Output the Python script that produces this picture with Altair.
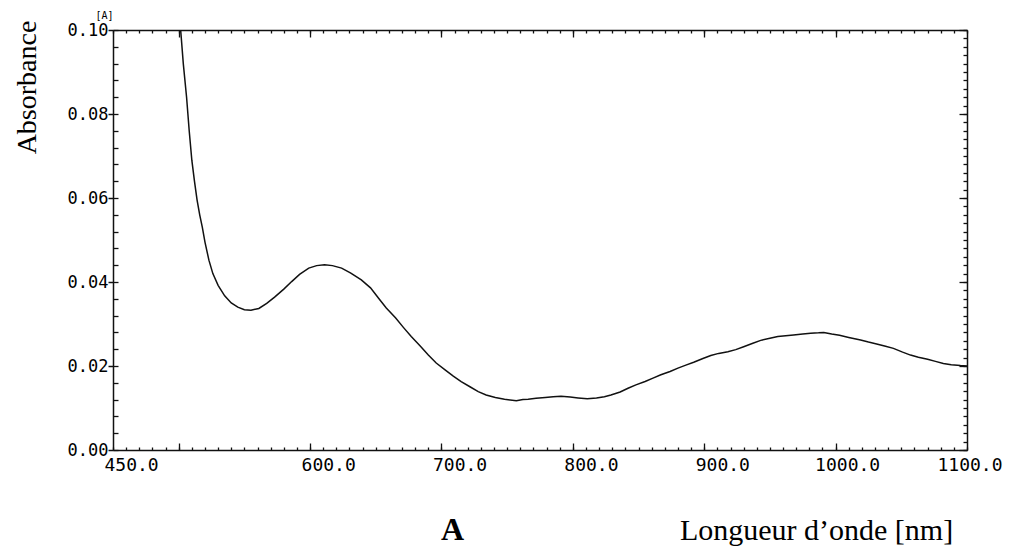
import altair as alt
import pandas as pd

# Spectrum
wavelength_nm = [501.5, 503.5, 506, 508, 510, 512, 514, 516, 518, 520, 523, 526, 530, 535, 540,
                 545, 550, 555, 561, 567, 573, 580, 586, 592, 599, 605, 611, 617, 624, 631,
                 639, 646, 652, 658, 665, 671, 677, 684, 690, 696, 703, 709, 715, 722, 728,
                 734, 741, 748, 757, 762, 766, 772, 779, 785, 791, 798, 804, 811, 818, 824,
                 829, 836, 842, 848, 855, 861, 867, 874, 880, 886, 892, 899, 905, 911, 918,
                 924, 930, 937, 943, 950, 956, 962, 968, 975, 981, 987, 991, 997, 1003, 1010,
                 1019, 1025, 1032, 1038, 1044, 1051, 1057, 1063, 1070, 1076, 1082, 1088, 1095, 1100]
absorbance = [0.100, 0.092, 0.084, 0.076, 0.069, 0.064, 0.0595, 0.056, 0.053, 0.0495, 0.0452, 0.0420, 0.0392, 0.0367, 0.0350,
              0.0340, 0.0334, 0.0333, 0.0337, 0.0349, 0.0364, 0.0383, 0.0401, 0.0418, 0.0433, 0.0439, 0.0441, 0.0439, 0.0433, 0.0421,
              0.0405, 0.0386, 0.0362, 0.0338, 0.0315, 0.0292, 0.0270, 0.0247, 0.0226, 0.0207, 0.0190, 0.0176, 0.0163, 0.0150, 0.0139,
              0.0131, 0.0125, 0.0121, 0.0117, 0.0120, 0.0121, 0.0123, 0.0125, 0.0127, 0.0128, 0.0126, 0.0124, 0.0122, 0.0124, 0.0127,
              0.0131, 0.0138, 0.0147, 0.0155, 0.0163, 0.0171, 0.0179, 0.0187, 0.0195, 0.0202, 0.0209, 0.0218, 0.0225, 0.0230, 0.0234,
              0.0239, 0.0246, 0.0254, 0.0261, 0.0266, 0.0270, 0.0272, 0.0274, 0.0276, 0.0278, 0.0279, 0.0280, 0.0276, 0.0273, 0.0268,
              0.0262, 0.0257, 0.0252, 0.0247, 0.0242, 0.0233, 0.0226, 0.0221, 0.0216, 0.0211, 0.0206, 0.0203, 0.0201, 0.0200]

# Axis ticks / labels
x_label_values = [450, 600, 700, 800, 900, 1000, 1100]
x_minor_ticks = list(range(450, 1101, 10))
x_major_ticks = [500, 600, 700, 800, 900, 1000]
y_label_values = [0.0, 0.02, 0.04, 0.06, 0.08, 0.10]
y_left_minor = [round(i * 0.004, 3) for i in range(26)]
y_right_minor = [round(i * 0.002, 3) for i in range(51)]

df = pd.DataFrame({"nm": wavelength_nm, "A": absorbance})

W, H = 854, 420
MONO = "DejaVu Sans Mono"
SERIF = "Liberation Serif"
INK = "#111111"

xs = alt.Scale(domain=[450, 1100], nice=False, zero=False)
ys = alt.Scale(domain=[0, 0.10], nice=False, zero=False)


def tick_axis(orient, offset, values, size, domain=False, **kw):
    return alt.Axis(orient=orient, offset=offset, values=values, tickSize=size,
                    ticks=True, tickColor=INK, tickWidth=1.3, labels=False,
                    domain=domain, domainColor=INK, domainWidth=1.5, grid=False,
                    title=kw.pop("title", " "), **kw)


label_shift = {"condition": [
    {"test": "datum.value >= 1100", "value": -30},
    {"test": "datum.value >= 1000", "value": -21},
], "value": -9}

main = alt.Chart(df).mark_line(color=INK, strokeWidth=1.5).encode(
    x=alt.X("nm:Q", scale=xs, axis=alt.Axis(
        orient="bottom", values=x_label_values, format=".1f", ticks=False, tickSize=0,
        domain=True, domainColor=INK, domainWidth=1.5, grid=False,
        labelFont=MONO, labelFontSize=18, labelColor="#000000", labelAlign="left",
        labelOffset=label_shift,
        labelBaseline="top", labelPadding=6, labelFlush=False,
        labelOverlap=False, labelBound=False,
        title="Longueur d\u2019onde [nm]", titleFont=SERIF, titleFontSize=30,
        titleFontWeight="normal", titleColor="black", titleX=703, titleY=89,
        titleAlign="center", titleBaseline="alphabetic")),
    y=alt.Y("A:Q", scale=ys, axis=alt.Axis(
        orient="left", values=y_label_values, format=".2f", ticks=True, tickSize=5,
        tickColor=INK, tickWidth=1.5, domain=True, domainColor=INK, domainWidth=1.5,
        grid=False, labelFont=MONO, labelFontSize=17, labelColor="#000000",
        labelAlign="right", labelBaseline="middle", labelPadding=0, labelFlush=False,
        labelOverlap=False, labelBound=False,
        title="Absorbance", titleFont=SERIF, titleFontSize=28, titleFontWeight="normal",
        titleColor="black", titleAngle=270, titleX=-86, titleY=57,
        titleAlign="center", titleBaseline="middle")),
)

ghost = alt.Chart(df).mark_line(opacity=0)

l1 = ghost.encode(
    x=alt.X("nm:Q", scale=xs, axis=tick_axis(
        "top", -H, x_minor_ticks, 3, title="A", titleFont=SERIF, titleFontSize=32,
        titleFontWeight="bold", titleColor="black", titleX=339, titleY=89,
        titleAlign="center", titleBaseline="alphabetic")),
    y=alt.Y("A:Q", scale=ys, axis=tick_axis("right", -W, y_left_minor, 5)),
)
l2 = ghost.encode(
    x=alt.X("nm:Q", scale=xs, axis=tick_axis("top", -H, x_major_ticks, 7)),
    y=alt.Y("A:Q", scale=ys, axis=tick_axis("left", -W, y_right_minor, 4, domain=True)),
)
l3 = ghost.encode(
    x=alt.X("nm:Q", scale=xs, axis=tick_axis("bottom", -H, x_minor_ticks, 3, domain=True)),
    y=alt.Y("A:Q", scale=ys, axis=alt.Axis(
        orient="left", ticks=False, labels=False, domain=False, grid=False,
        title="[A]", titleFont=MONO, titleFontSize=10, titleFontWeight="normal",
        titleColor="#000000", titleAngle=0, titleX=-9, titleY=-15,
        titleAlign="center", titleBaseline="middle")),
)
l4 = ghost.encode(
    x=alt.X("nm:Q", scale=xs, axis=tick_axis("bottom", -H, x_major_ticks, 7)),
    y=alt.Y("A:Q", scale=ys, axis=tick_axis("left", -W, y_label_values, 8)),
)

chart = alt.layer(main, l1, l2, l3, l4).resolve_axis(
    x="independent", y="independent"
).properties(
    width=W, height=H, autosize="none",
    padding={"left": 105, "top": 22, "right": 42, "bottom": 96},
    background="white",
).configure_view(stroke=None)

chart.save("out.html", embed_options={"renderer": "svg", "actions": False})
